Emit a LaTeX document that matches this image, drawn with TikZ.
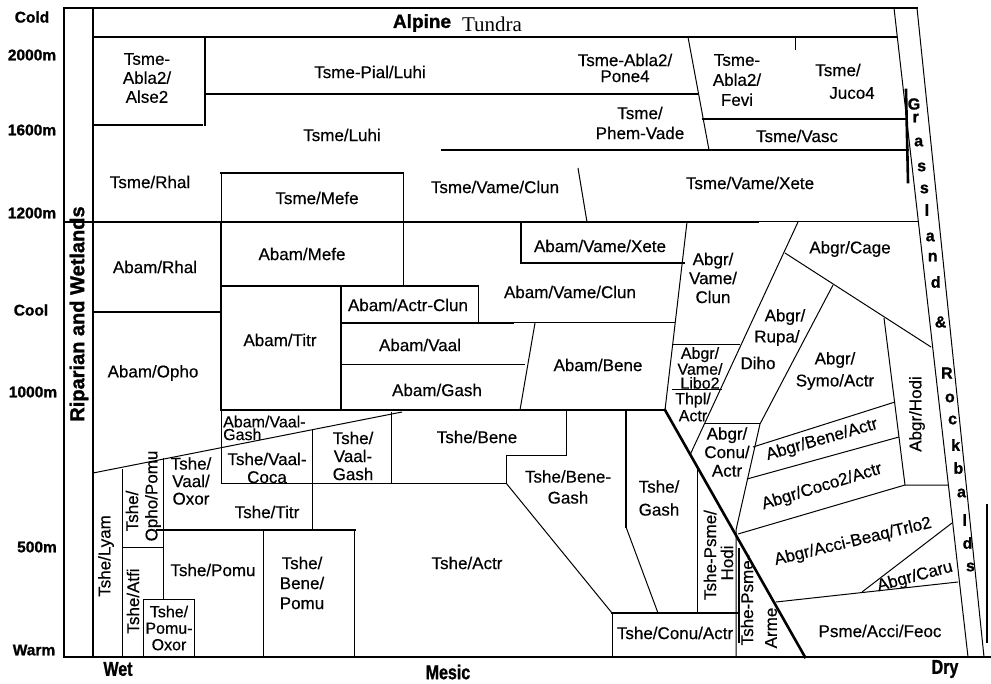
\documentclass[tikz,border=0pt]{standalone}
\usepackage{fontspec}
\setmainfont[FakeBold=0.4]{Liberation Sans}
\newfontfamily\tundrafont{Liberation Serif}
\newfontfamily\heavyfont[BoldFeatures={FakeBold=1.2}]{Liberation Sans}
\newfontfamily\narrowfont[FakeStretch=0.8,BoldFeatures={FakeBold=1.2}]{Liberation Sans}
\usetikzlibrary{positioning}
\tikzset{
  thk/.style={line width=2.6pt, line cap=rect},
  thn/.style={line width=1pt},
  lab/.style={inner sep=0pt, align=center, font=\fontsize{17}{19}\selectfont},
  tight/.style={inner sep=0pt, align=center, font=\fontsize{16}{14}\selectfont},
  yax/.style={inner sep=0pt, font=\heavyfont\bfseries\fontsize{15.5}{15.5}\selectfont},
  xax/.style={inner sep=0pt, font=\narrowfont\bfseries\fontsize{20}{20}\selectfont},
  stripletter/.style={inner sep=0pt, font=\heavyfont\bfseries\fontsize{16}{16}\selectfont},
}
\begin{document}
\begin{tikzpicture}[x=1pt,y=-1pt]
\useasboundingbox (0,0) rectangle (991,684);
% frame and axes
\draw[thk] (64,8) -- (64,657);
\draw[thk] (64,8) -- (917,8);
\draw[line width=1.4pt] (64,657) -- (991,657);
\draw[thk] (93,8) -- (93,657);
\draw[thn] (894,8) -- (968,657);
\draw[thn] (917,8) -- (984,657);
\draw[thk] (906,90) -- (908,182);
\draw[thk] (987,505) -- (987,642);
\node[yax] (cold) at (32,17) {Cold};
\node[yax] (m2000) at (32,55) {2000m};
\node[yax] (m1600) at (32,130) {1600m};
\node[yax] (m1200) at (32,213) {1200m};
\node[yax] (cool) at (31,310) {Cool};
\node[yax] (m1000) at (33,392) {1000m};
\node[yax] (m500) at (37,547) {500m};
\node[yax] (warm) at (34,650) {Warm};
\node[xax] (wet) at (118,669) {Wet};
\node[xax] (mesic) at (448,672) {Mesic};
\node[xax] (dry) at (945,669) {Dry};
\node[rotate=90, inner sep=0pt, font=\heavyfont\bfseries\fontsize{20}{20}\selectfont] (ripar) at (79,314) {Riparian and Wetlands};
\foreach \c/\yy in {G/104, r/118, a/142, s/167, s/189, l/210, a/237, n/257, d/282, \&/322, R/373, o/398, c/420, k/445, b/468, a/493, l/520, d/543, s/567}
  \node[stripletter] (gl\yy) at ({914+0.122*(\yy-104)},\yy) {\c};
% alpine and subalpine rows
\draw[thk] (93,37) -- (896,37);
\node[inner sep=0pt, font=\heavyfont\bfseries\fontsize{19}{19}\selectfont] (alpine) at (422,23) {Alpine};
\node[inner sep=0pt, font=\tundrafont\fontsize{21}{21}\selectfont] (tundra) at (492,24) {Tundra};
\draw[thk] (205,37) -- (205,125);
\draw[thk] (93,125) -- (202,125);
\draw[thk] (205,94) -- (698,94);
\draw[thn] (688,37) -- (709,150);
\draw[thk] (703,119) -- (906,119);
\draw[thn] (795,37) -- (795,50);
\draw[thk] (442,150) -- (908,150);
\draw[thk] (221,173) -- (403,173);
\draw[thn] (221,173) -- (221,222);
\draw[thn] (403,173) -- (403,286);
\draw[thn] (578,168) -- (587,222);
\draw[thk] (64,222) -- (758,222);
\draw[thn] (758,222) -- (918,222);
\node[lab] (tsmealse) at (147,78) {Tsme-\\Abla2/\\Alse2};
\node[lab] (tsmepial) at (370,72) {Tsme-Pial/Luhi};
\node[lab, font=\fontsize{17}{16}\selectfont] (tsmepone) at (625,68) {Tsme-Abla2/\\Pone4};
\node[lab, font=\fontsize{17}{20}\selectfont] (tsmefevi) at (737,80) {Tsme-\\Abla2/\\Fevi};
\node[lab] (tsmejuco) at (838,70) {Tsme/};
\node[lab] (juco) at (852,93) {Juco4};
\node[lab, font=\fontsize{17}{20}\selectfont] (tsmephem) at (640,123) {Tsme/\\Phem-Vade};
\node[lab] (tsmeluhi) at (342,135) {Tsme/Luhi};
\node[lab] (tsmevasc) at (797,136) {Tsme/Vasc};
\node[lab] (tsmerhal) at (150,182) {Tsme/Rhal};
\node[lab] (tsmemefe) at (317,198) {Tsme/Mefe};
\node[lab] (tsmeclun) at (495,187) {Tsme/Vame/Clun};
\node[lab] (tsmexete) at (750,183) {Tsme/Vame/Xete};
% silver fir zone
\draw[thk] (221,222) -- (221,410);
\draw[thn] (221,410) -- (221,483);
\draw[thk] (93,312) -- (221,312);
\draw[thk] (221,286) -- (478,286);
\draw[thn] (478,286) -- (478,323);
\draw[thk] (341,286) -- (341,410);
\draw[thk] (341,323) -- (513,323);
\draw[thn] (513,323) -- (675,323);
\draw[thn] (341,365) -- (525,365);
\draw[thk] (221,410) -- (665,410);
\draw[thn] (535,323) -- (520,410);
\draw[thk] (521,222) -- (521,263) -- (684,263);
\draw[thn] (687,222) -- (665,410);
\draw[thn] (673,345) -- (740,345);
\draw[thn] (672,390) -- (722,390);
\draw[thn] (798,222) -- (690,455);
\draw[thn] (833,285) -- (760,424) -- (736,530) -- (736,657);
\draw[thn] (704,424) -- (760,424);
\draw[thn] (785,253) -- (931,347);
\draw[thn] (884,318) -- (905,485) -- (948,485);
\draw[thn] (753,447) -- (895,402);
\draw[thn] (747,479) -- (899,437);
\draw[thn] (738,534) -- (905,485);
\draw[thn] (862,592) -- (952,523);
\draw[thn] (776,602) -- (958,582);
\draw[thk] (665,410) -- (805,657);
\draw[thk] (739,549) -- (739,642);
\node[lab] (abamrhal) at (155,267) {Abam/Rhal};
\node[lab] (abammefe) at (302,254) {Abam/Mefe};
\node[lab] (abamxete) at (600,246) {Abam/Vame/Xete};
\node[lab] (abamclun) at (570,292) {Abam/Vame/Clun};
\node[lab] (abamactr) at (408,305) {Abam/Actr-Clun};
\node[lab] (abamtitr) at (280,340) {Abam/Titr};
\node[lab] (abamvaal) at (420,345) {Abam/Vaal};
\node[lab] (abamgash) at (437,390) {Abam/Gash};
\node[lab] (abamopho) at (153,373) {Abam/Opho};
\node[lab] (abambene) at (598,365) {Abam/Bene};
\node[lab] (abgrclun) at (713,278) {Abgr/\\Vame/\\Clun};
\node[tight] (abgrlibo) at (700,368) {Abgr/\\Vame/\\Libo2};
\node[lab, font=\fontsize{16}{17}\selectfont] (thplactr) at (693,407) {Thpl/\\Actr};
\node[lab] (rupa1) at (785,317) {Abgr/};
\node[lab] (rupa2) at (777,338) {Rupa/};
\node[lab] (rupa3) at (758,363) {Diho};
\node[lab, font=\fontsize{17}{22}\selectfont] (abgrsymo) at (835,371) {Abgr/\\Symo/Actr};
\node[lab] (abgrcage) at (850,249) {Abgr/Cage};
\node[lab, rotate=90] (abgrhodi) at (917,414) {Abgr/Hodi};
\node[lab, font=\fontsize{17}{18.5}\selectfont] (abgrconu) at (727,452) {Abgr/\\Conu/\\Actr};
\node[lab, rotate=16] (abgrbene) at (822,440) {Abgr/Bene/Actr};
\node[lab, rotate=17] (abgrcoco) at (822,487) {Abgr/Coco2/Actr};
\node[lab, rotate=13.5] (abgracci) at (853,542) {Abgr/Acci-Beaq/Trlo2};
\node[lab, rotate=15] (abgrcaru) at (915,577) {Abgr/Caru};
\node[lab] (psmeacci) at (880,631) {Psme/Acci/Feoc};
% western hemlock zone
\draw[thn] (93,473) -- (402,412);
\draw[thn] (122,469) -- (122,657);
\draw[thn] (163,458) -- (163,599);
\draw[thn] (122,547) -- (163,547);
\draw[thn] (143,657) -- (143,599) -- (194,599) -- (194,657);
\draw[thn] (312,430) -- (312,530);
\draw[thn] (391,412) -- (391,483);
\draw[thn] (221,483) -- (506,483) -- (506,456) -- (566,456) -- (566,410);
\draw[thk] (157,530) -- (355,530);
\draw[thn] (263,530) -- (263,657);
\draw[thn] (354,530) -- (354,657);
\draw[thn] (506,483) -- (612,613);
\draw[thk] (626,410) -- (626,527);
\draw[thn] (626,527) -- (658,613);
\draw[thn] (697,465) -- (697,613);
\draw[thk] (612,613) -- (738,613);
\draw[thn] (612,613) -- (612,657);
\node[tight, align=left, font=\fontsize{16}{11}\selectfont, anchor=west] (abamvg) at (223,428) {Abam/Vaal-\\Gash};
\node[lab, font=\fontsize{17}{18}\selectfont] (tshevg) at (353,456) {Tshe/\\Vaal-\\Gash};
\node[lab, font=\fontsize{17}{18}\selectfont] (tshevc) at (267,468) {Tshe/Vaal-\\Coca};
\node[lab, font=\fontsize{17}{17.5}\selectfont] (tshevo) at (191,481) {Tshe/\\Vaal/\\Oxor};
\node[lab] (tshetitr) at (267,512) {Tshe/Titr};
\node[lab] (tshebene) at (477,437) {Tshe/Bene};
\node[lab, font=\fontsize{17}{21}\selectfont] (tshebg) at (568,487) {Tshe/Bene-\\Gash};
\node[lab, font=\fontsize{17}{23}\selectfont] (tshegash) at (659,498) {Tshe/\\Gash};
\node[lab] (tsheactr) at (467,563) {Tshe/Actr};
\node[lab] (tshepomu) at (213,570) {Tshe/Pomu};
\node[lab, font=\fontsize{17}{20}\selectfont] (tshebp) at (302,583) {Tshe/\\Bene/\\Pomu};
\node[lab, font=\fontsize{16}{16.5}\selectfont] (tshepo) at (169,628) {Tshe/\\Pomu-\\Oxor};
\node[lab, rotate=90] (tshelyam) at (106,556) {Tshe/Lyam};
\node[lab, rotate=90] (tsheopho1) at (132,511) {Tshe/};
\node[lab, rotate=90] (tsheopho2) at (153,496) {Opho/Pomu};
\node[lab, rotate=90] (tsheatfi) at (133,601) {Tshe/Atfi};
\node[lab] (tsheconu) at (675,633) {Tshe/Conu/Actr};
\node[lab, rotate=90] (hodi1) at (710,555) {Tshe-Psme/};
\node[lab, rotate=90] (hodi2) at (727,563) {Hodi};
\node[lab, rotate=90] (arme1) at (747,600) {Tshe-Psme-};
\node[lab, rotate=90] (arme2) at (771,628) {Arme};
\end{tikzpicture}
\end{document}
